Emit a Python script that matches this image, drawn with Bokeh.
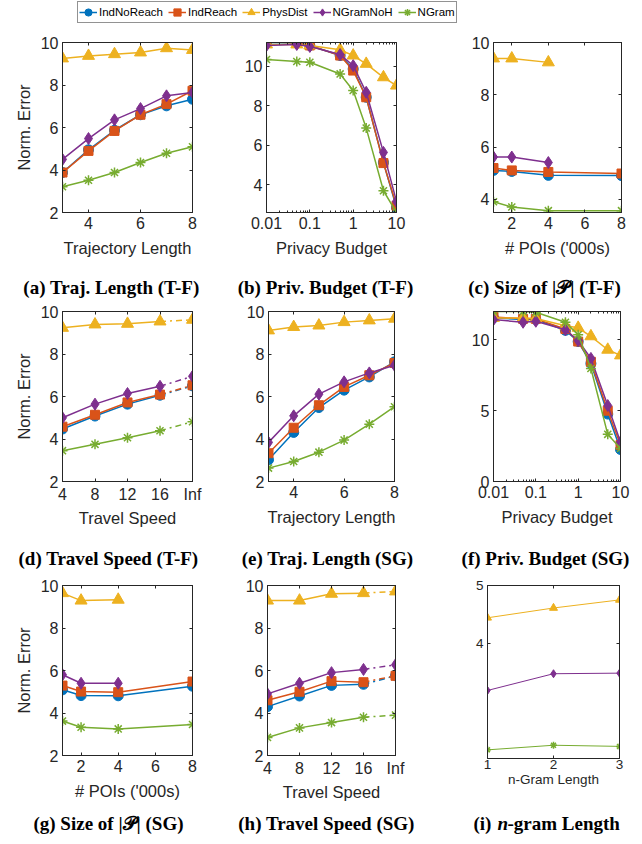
import math
from bokeh.plotting import figure
from bokeh.models import (Range1d, LinearAxis, LogAxis, FixedTicker, Legend, LegendItem,
                          Label, CustomJSTickFormatter)
from bokeh.layouts import column, row
from bokeh.embed import file_html
from bokeh.resources import INLINE

NaN = float("nan")

series_names = ["IndNoReach", "IndReach", "PhysDist", "NGramNoH", "NGram"]
series_colors = ["#0072BD", "#D95319", "#EDB120", "#7E2F8E", "#77AC30"]
series_markers = ["circle", "square", "triangle", "diamond", "asterisk"]
y_label = "Norm. Error"

captions_row1 = ["(a) Traj. Length (T-F)", "(b) Priv. Budget (T-F)", "(c) Size of |\U0001D4AB| (T-F)"]
captions_row2 = ["(d) Travel Speed (T-F)", "(e) Traj. Length (SG)", "(f) Priv. Budget (SG)"]
captions_row3 = ["(g) Size of |\U0001D4AB| (SG)", "(h) Travel Speed (SG)"]
caption_i = ["(i)", "n", "-gram Length"]

# (a) Trajectory length, T-F
traj_len = [3, 4, 5, 6, 7, 8]
a_indnoreach = [3.88, 4.95, 5.87, 6.60, 7.02, 7.33]
a_indreach = [3.88, 4.90, 5.84, 6.60, 7.10, 7.73]
a_physdist = [9.25, 9.37, 9.45, 9.53, 9.73, 9.65]
a_ngramnoh = [4.50, 5.48, 6.36, 6.89, 7.49, 7.65]
a_ngram = [3.21, 3.52, 3.88, 4.35, 4.79, 5.09]

# (b) Privacy budget, T-F
budget = [0.01, 0.05, 0.1, 0.5, 1, 2, 5, 10]
b_indnoreach = [11.20, 11.18, 11.05, 10.54, 9.86, 8.43, 5.13, 2.85]
b_indreach = [11.25, 11.18, 11.05, 10.54, 9.78, 8.43, 5.10, 2.94]
b_physdist = [11.10, 11.10, 11.05, 10.83, 10.54, 10.12, 9.44, 9.02]
b_ngramnoh = [11.05, 11.10, 11.00, 10.59, 10.03, 8.68, 5.64, 3.16]
b_ngram = [10.34, 10.24, 10.20, 9.61, 8.77, 6.87, 3.70, 2.60]

# (c) POIs, T-F
pois = [1, 2, 4, 8]
c_indnoreach = [5.11, 5.07, 4.92, 4.91]
c_indreach = [5.20, 5.11, 5.05, 4.99]
c_physdist = [9.39, 9.39, 9.24, NaN]
c_ngramnoh = [5.62, 5.62, 5.41, NaN]
c_ngram = [3.91, 3.71, 3.57, 3.57]

# (d) Travel speed, T-F
speed = ["4", "8", "12", "16", "Inf"]
d_indnoreach = [4.47, 5.08, 5.64, 6.06, 6.50]
d_indreach = [4.58, 5.14, 5.72, 6.09, 6.53]
d_physdist = [9.23, 9.39, 9.42, 9.53, 9.61]
d_ngramnoh = [5.00, 5.64, 6.14, 6.48, 6.95]
d_ngram = [3.45, 3.75, 4.06, 4.39, 4.81]

# (e) Trajectory length, SG
e_indnoreach = [3.02, 4.31, 5.48, 6.30, 6.92, 7.63]
e_indreach = [3.33, 4.53, 5.59, 6.45, 7.00, 7.58]
e_physdist = [9.11, 9.27, 9.34, 9.50, 9.58, 9.66]
e_ngramnoh = [3.84, 5.09, 6.11, 6.69, 7.11, 7.47]
e_ngram = [2.63, 2.94, 3.38, 3.95, 4.70, 5.52]

# (f) Privacy budget, SG
f_indnoreach = [11.55, 11.43, 11.43, 10.67, 9.88, 8.33, 4.76, 2.26]
f_indreach = [11.62, 11.48, 11.48, 10.76, 9.88, 8.45, 5.00, 2.57]
f_physdist = [11.55, 11.55, 11.50, 11.00, 10.85, 10.25, 9.30, 8.90]
f_ngramnoh = [11.43, 11.24, 11.31, 10.71, 9.95, 8.69, 5.36, 2.79]
f_ngram = [12.00, 12.00, 11.95, 11.24, 10.36, 7.98, 3.33, 2.33]

# (g) POIs, SG
g_indnoreach = [5.09, 4.82, 4.81, 5.26]
g_indreach = [5.29, 5.01, 4.98, 5.48]
g_physdist = [9.64, 9.29, 9.33, NaN]
g_ngramnoh = [5.80, 5.40, 5.40, NaN]
g_ngram = [3.62, 3.33, 3.25, 3.46]

# (h) Travel speed, SG
h_indnoreach = [4.30, 4.80, 5.30, 5.35, 5.75]
h_indreach = [4.60, 5.00, 5.50, 5.45, 5.75]
h_physdist = [9.29, 9.29, 9.61, 9.64, 9.72]
h_ngramnoh = [4.90, 5.40, 5.90, 6.05, 6.27]
h_ngram = [2.85, 3.30, 3.55, 3.80, 3.90]

# (i) n-gram length
ngram_len = [1, 2, 3]
i_physdist = [4.44, 4.61, 4.75]
i_ngramnoh = [3.18, 3.47, 3.48]
i_ngram = [2.15, 2.23, 2.21]

# tick values
ticks_traj = [4, 6, 8]
ticks_pois = [2, 4, 6, 8]
ticks_budget = [0.01, 0.1, 1, 10]
minor_budget = [m * 10 ** e for e in range(-2, 1) for m in range(2, 10)]
ticks_err = [2, 4, 6, 8, 10]
ticks_err_b = [4, 6, 8, 10]
ticks_err_f = [0, 5, 10]
ticks_ngram = [1, 2, 3]
ticks_err_i = [4, 5]

INK = "#262626"
SANS = "Liberation Sans"
SERIF = "Liberation Serif"
PAGE_W = 634


def style_axis(ax, ticker, fs, labels=True, formatter=None):
    ax.ticker = ticker
    if formatter is not None:
        ax.formatter = formatter
    ax.axis_line_color = INK
    ax.axis_line_width = 1
    ax.major_tick_in = 3
    ax.major_tick_out = 0
    ax.minor_tick_in = 2
    ax.minor_tick_out = 0
    ax.major_tick_line_color = INK
    ax.minor_tick_line_color = INK
    ax.major_label_text_font = SANS
    ax.major_label_text_font_size = fs
    ax.major_label_text_color = INK if labels else None
    ax.major_label_standoff = 4
    ax.axis_label_text_font = SANS
    ax.axis_label_text_font_style = "normal"
    ax.axis_label_text_color = INK


def make_panel(x, ys, xr, yr, xticks, yticks, xlabel, borders, frame,
               ylabel=None, log_x=False, cat_labels=None, dash_last=False, small=False,
               xlabel_standoff=7, tick_standoff=4):
    l, r, t, b = borders
    fw, fh = frame
    p = figure(x_axis_type="log" if log_x else "linear",
               x_range=Range1d(*xr), y_range=Range1d(*yr),
               frame_width=fw, frame_height=fh,
               min_border_left=l, min_border_right=r, min_border_top=t, min_border_bottom=b,
               toolbar_location=None, output_backend="svg",
               background_fill_color="white", border_fill_color="white",
               outline_line_color=INK, outline_line_width=1)
    p.xgrid.visible = False
    p.ygrid.visible = False
    fs = "13.5px" if small else "16px"
    lfs = "13.5px" if small else "16.5px"

    if log_x:
        xt = FixedTicker(ticks=xticks, minor_ticks=minor_budget)
        xf = CustomJSTickFormatter(code="return tick.toString()")
    elif cat_labels is not None:
        xt = FixedTicker(ticks=xticks)
        xf = CustomJSTickFormatter(args=dict(labels=cat_labels),
                                   code="return labels[Math.round(tick)]")
    else:
        xt = FixedTicker(ticks=xticks)
        xf = None
    yt = FixedTicker(ticks=yticks)

    style_axis(p.xaxis[0], xt, fs, True, xf)
    style_axis(p.yaxis[0], yt, fs, True)
    p.xaxis[0].major_label_standoff = tick_standoff
    p.xaxis[0].axis_label = xlabel
    p.xaxis[0].axis_label_text_font_size = lfs
    p.xaxis[0].axis_label_standoff = xlabel_standoff
    if ylabel:
        p.yaxis[0].axis_label = ylabel
        p.yaxis[0].axis_label_text_font_size = lfs
        p.yaxis[0].axis_label_standoff = 5

    top = LogAxis() if log_x else LinearAxis()
    style_axis(top, FixedTicker(ticks=xticks, minor_ticks=minor_budget if log_x else []), fs, False)
    top.major_label_standoff = 0
    top.axis_label_standoff = 0
    p.add_layout(top, "above")
    right = LinearAxis()
    style_axis(right, FixedTicker(ticks=yticks), fs, False)
    right.major_label_standoff = 0
    right.axis_label_standoff = 0
    p.add_layout(right, "right")

    lw = 1.0 if small else 1.5
    for name, color, marker, yv in zip(series_names, series_colors, series_markers, ys):
        if yv is None:
            continue
        if dash_last:
            p.line(x[:-1], yv[:-1], line_color=color, line_width=lw)
            p.line(x[-2:], yv[-2:], line_color=color, line_width=lw, line_dash="dashdot")
        else:
            p.line(x, yv, line_color=color, line_width=lw)
        if small:
            size = {"circle": 7, "square": 7, "triangle": 8, "diamond": 8, "asterisk": 7}[marker]
        else:
            size = {"circle": 10, "square": 9, "triangle": 12, "diamond": 12, "asterisk": 10}[marker]
        p.scatter(x, yv, marker=marker, size=size, fill_color=color, line_color=color,
                  line_width=1.5 if marker == "asterisk" else 1)
    return p


def caption_strip(height, y, texts, centers, extra=None):
    s = figure(width=PAGE_W, height=height, x_range=Range1d(0, PAGE_W), y_range=Range1d(0, height),
               min_border=0, toolbar_location=None, output_backend="svg",
               x_axis_location=None, y_axis_location=None, outline_line_color=None)
    s.grid.visible = False
    for txt, cx in zip(texts, centers):
        s.add_layout(Label(x=cx, y=y, text=txt, text_align="center", text_baseline="middle",
                           text_font=SERIF, text_font_size="19px", text_font_style="bold",
                           text_color="black"))
    if extra:
        for txt, lx, style in extra:
            s.add_layout(Label(x=lx, y=y, text=txt, text_align="left", text_baseline="middle",
                               text_font=SERIF, text_font_size="19px", text_font_style=style,
                               text_color="black"))
    return s


speed_idx = list(range(len(speed)))

pa = make_panel(traj_len, [a_indnoreach, a_indreach, a_physdist, a_ngramnoh, a_ngram],
                (3, 8), (2, 10), ticks_traj, ticks_err, "Trajectory Length",
                (62, 26, 12, 58), (130, 170), ylabel=y_label)
pb = make_panel(budget, [b_indnoreach, b_indreach, b_physdist, b_ngramnoh, b_ngram],
                (0.01, 10), (2.6, 11.2), ticks_budget, ticks_err_b, "Privacy Budget",
                (48, 32, 12, 58), (130, 170), log_x=True)
pc = make_panel(pois, [c_indnoreach, c_indreach, c_physdist, c_ngramnoh, c_ngram],
                (1, 8), (3.5, 10), ticks_pois, ticks_err_b, "# POIs ('000s)",
                (65, 13, 12, 58), (128, 170))

pd_ = make_panel(speed_idx, [d_indnoreach, d_indreach, d_physdist, d_ngramnoh, d_ngram],
                 (0, 4), (2, 10), speed_idx, ticks_err, "Travel Speed",
                 (62, 26, 10, 58), (130, 170), ylabel=y_label,
                 cat_labels=speed, dash_last=True, xlabel_standoff=3)
pe = make_panel(traj_len, [e_indnoreach, e_indreach, e_physdist, e_ngramnoh, e_ngram],
                (3, 8), (2, 10), ticks_traj, ticks_err, "Trajectory Length",
                (50, 34, 10, 58), (126, 170))
pf = make_panel(budget, [f_indnoreach, f_indreach, f_physdist, f_ngramnoh, f_ngram],
                (0.01, 10), (0, 12), ticks_budget, ticks_err_f, "Privacy Budget",
                (65, 14, 10, 58), (127, 170), log_x=True)

pg = make_panel(pois, [g_indnoreach, g_indreach, g_physdist, g_ngramnoh, g_ngram],
                (1, 8), (2, 10), ticks_pois, ticks_err, "# POIs ('000s)",
                (62, 26, 11, 50), (130, 170), ylabel=y_label)
ph = make_panel(speed_idx, [h_indnoreach, h_indreach, h_physdist, h_ngramnoh, h_ngram],
                (0, 4), (2, 10), speed_idx, ticks_err, "Travel Speed",
                (49, 33, 11, 50), (128, 170),
                cat_labels=speed, dash_last=True, xlabel_standoff=3)
pi = make_panel(ngram_len, [None, None, i_physdist, i_ngramnoh, i_ngram],
                (1, 3), (2, 5), ticks_ngram, ticks_err_i, "n-Gram Length",
                (59, 15, 8, 50), (132, 173), small=True,
                xlabel_standoff=0, tick_standoff=1)

# captions (centres are page pixels)
cap1 = caption_strip(31, 14, captions_row1, [111, 325, 544])
cap2 = caption_strip(35, 16, captions_row2, [108, 327, 545])
cap3 = caption_strip(39, 21, captions_row3, [108, 326],
                     extra=[(caption_i[0], 473, "bold"), (caption_i[1], 497, "bold italic"),
                            (caption_i[2], 507, "bold")])

# legend strip
leg = figure(width=PAGE_W, height=30, x_range=Range1d(0, 1), y_range=Range1d(0, 1),
             min_border=0, toolbar_location=None, output_backend="svg",
             x_axis_location=None, y_axis_location=None, outline_line_color=None)
leg.grid.visible = False
items = []
for name, color, marker in zip(series_names, series_colors, series_markers):
    r1 = leg.line([NaN], [NaN], line_color=color, line_width=1.5)
    r2 = leg.scatter([NaN], [NaN], marker=marker, size=8, fill_color=color, line_color=color,
                     line_width=1.5 if marker == "asterisk" else 1)
    items.append(LegendItem(label=name, renderers=[r1, r2]))
legend = Legend(items=items, orientation="horizontal", location=(77, 7),
                label_text_font=SANS, label_text_font_size="11.5px", label_text_color="black",
                glyph_width=18, glyph_height=18, label_height=18, label_standoff=2,
                spacing=5, padding=1, margin=0,
                border_line_color=INK, border_line_width=1, background_fill_color="white")
leg.add_layout(legend)

layout = column(leg, row(pa, pb, pc), cap1, row(pd_, pe, pf), cap2, row(pg, ph, pi), cap3)

with open("out.html", "w") as fh:
    fh.write(file_html(layout, INLINE))
